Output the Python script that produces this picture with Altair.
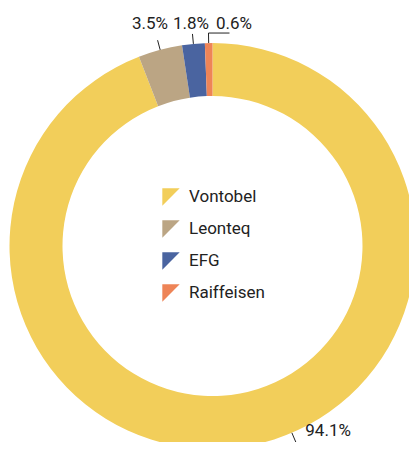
import altair as alt
import numpy as np
import pandas as pd

# ---- data ----
names = ["Vontobel", "Leonteq", "EFG", "Raiffeisen"]
shares = [94.1, 3.5, 1.8, 0.6]
colors = ["#F2CE5A", "#BBA584", "#4A64A0", "#EE8457"]

# ---- layout (chart coordinates) ----
W, H = 401, 434
CX, CY = 204.5, 238.0
R_OUT, R_IN = 203, 150
TICK_IN, TICK_OUT = 203, 213
FONT = "Roboto"

df = pd.DataFrame({"name": names, "share": shares, "idx": range(len(names))})
df["label"] = [f"{v:.1f}%" for v in shares]

# leader geometry derived from the data (mid-angle of each slice)
vals = np.array(shares, dtype=float)
mid = np.cumsum(vals) - vals / 2.0
ang = mid / vals.sum() * 2 * np.pi
# the big slice's label is pulled to a visible spot of the ring
angle_shift = {"Vontobel": np.deg2rad(-12.4)}
ang = np.array([a + angle_shift.get(n, 0.0) for a, n in zip(ang, names)])

x1 = CX + TICK_IN * np.sin(ang)
y1 = CY - TICK_IN * np.cos(ang)
x2 = CX + TICK_OUT * np.sin(ang)
y2 = CY - TICK_OUT * np.cos(ang)

lead = pd.DataFrame({"x": x1, "y": y1, "x2": x2, "y2": y2})
# elbow for the smallest slice
elbow = pd.DataFrame({"x": [x2[3]], "y": [y2[3]], "x2": [x2[3] + 21], "y2": [y2[3]]})
lead = pd.concat([lead, elbow], ignore_index=True)

label_off = {"Vontobel": (32.3, -6.4), "Leonteq": (-7.6, -11), "EFG": (-1.5, -5), "Raiffeisen": (25.5, -4)}
lab = pd.DataFrame({
    "label": df["label"],
    "lx": [x2[i] + label_off[n][0] for i, n in enumerate(names)],
    "ly": [y2[i] + label_off[n][1] for i, n in enumerate(names)],
})

tri = "M-1,-1L1,-1L-1,1Z"

arcs = alt.Chart(df).mark_arc(innerRadius=R_IN, outerRadius=R_OUT, stroke=None, clip=True).encode(
    theta=alt.Theta("share:Q", stack=True),
    order=alt.Order("idx:Q"),
    color=alt.Color(
        "name:N",
        scale=alt.Scale(domain=names, range=colors),
        sort=names,
        legend=alt.Legend(
            title=None, orient="none", legendX=154, legendY=180,
            symbolType=tri, symbolSize=300, symbolStrokeWidth=0, symbolOpacity=1,
            labelFont=FONT, labelFontSize=17, labelColor="#222222",
            labelOffset=9, rowPadding=14, padding=0,
        ),
    ),
    x=alt.value(CX),
    y=alt.value(CY),
)

rules = alt.Chart(lead).mark_rule(color="#222222", strokeWidth=1, clip=True).encode(
    x=alt.X("x:Q", scale=None), y=alt.Y("y:Q", scale=None),
    x2="x2:Q", y2="y2:Q",
)

texts = alt.Chart(lab).mark_text(
    font=FONT, fontSize=17, color="#222222", align="center", baseline="alphabetic"
).encode(
    x=alt.X("lx:Q", scale=None), y=alt.Y("ly:Q", scale=None), text="label:N"
)

chart = alt.layer(arcs, rules, texts).properties(
    width=W, height=H, padding=0, background="white",
    autosize=alt.AutoSizeParams(type="none"),
).configure_view(stroke=None)

chart.save("out.html", embed_options={"renderer": "svg", "actions": False})
